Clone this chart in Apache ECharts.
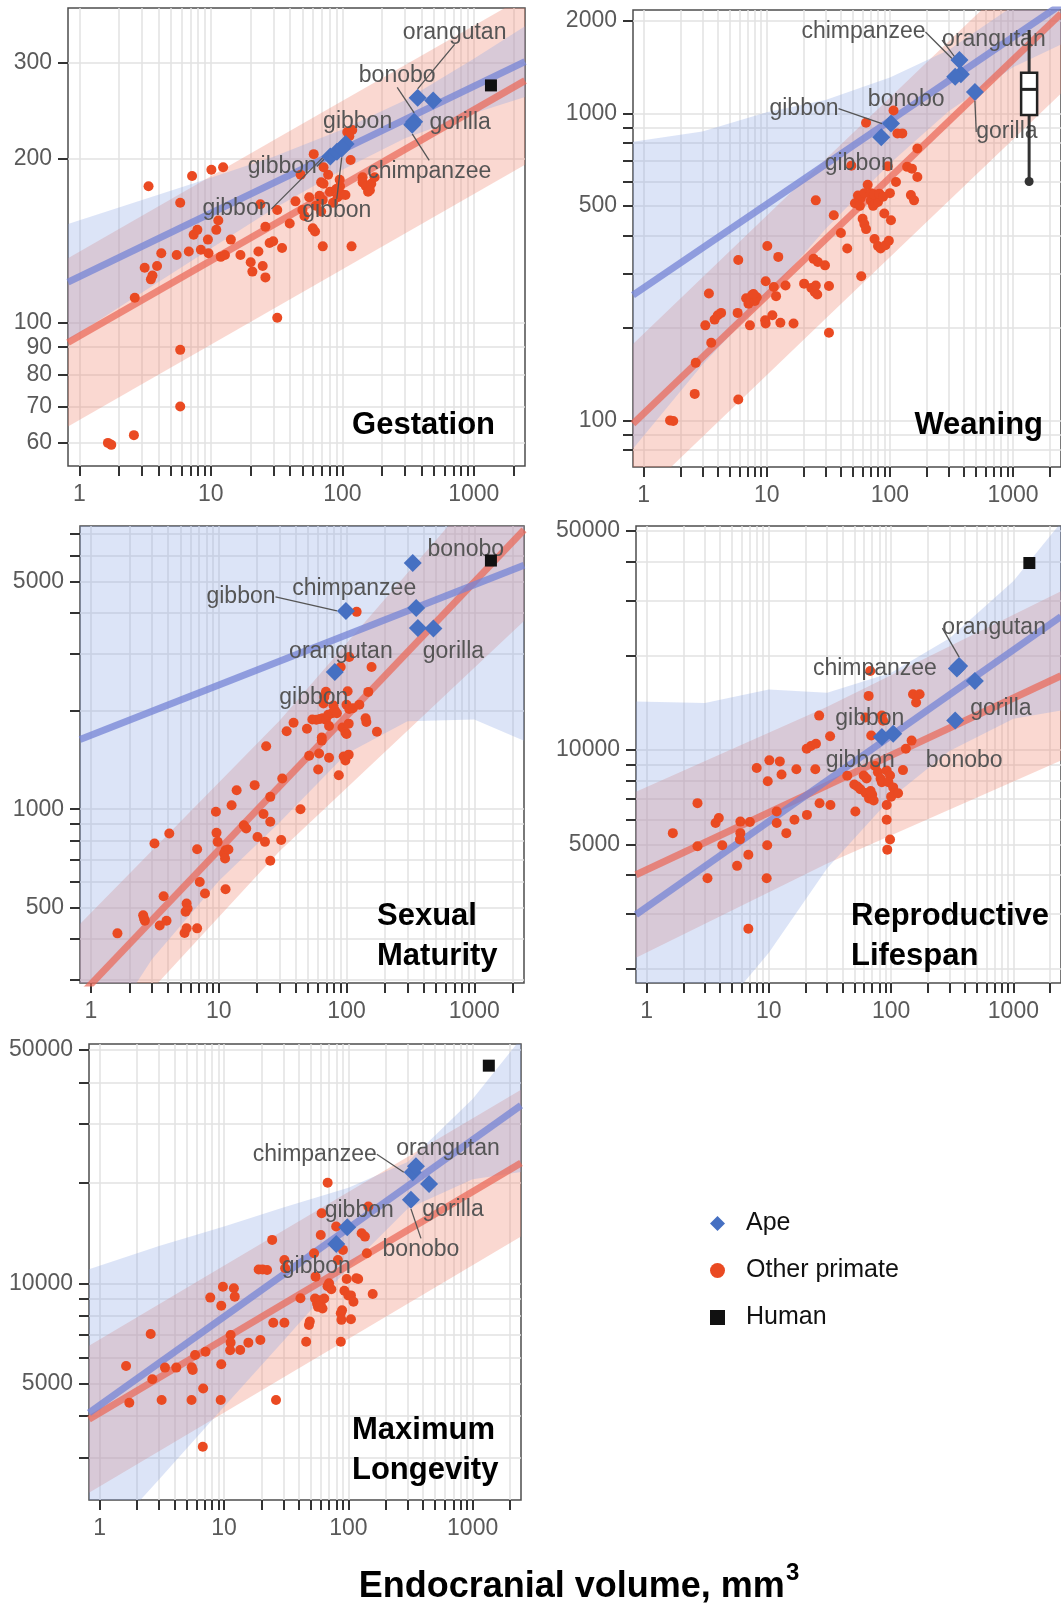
<!DOCTYPE html>
<html>
<head>
<meta charset="utf-8">
<script src="https://cdn.jsdelivr.net/npm/echarts@6/dist/echarts.min.js"></script>
<style>
  html, body { margin: 0; padding: 0; background: #fff; }
  #chart { width: 1061px; height: 1608px; }
</style>
</head>
<body>
<div id="chart"></div>
<script>
// shared x axis (endocranial volume, log scale)
const xRange = [0.82, 2450]
const xTicks = [1, 2, 3, 4, 5, 6, 7, 8, 9, 10, 20, 30, 40, 50, 60, 70, 80, 90,
  100, 200, 300, 400, 500, 600, 700, 800, 900, 1000, 2000]
const xLabels = [1, 10, 100, 1000]
const bandX = [0.82, 3, 10, 30, 100, 300, 1000, 2450]
const redBandX = [0.82, 30, 2450]
const humanVolume = 1350

// ---- Gestation
const gestYRange = [54.4, 379]
const gestYTicks = [60, 70, 80, 90, 100, 200, 300]
const gestYLabels = [60, 70, 80, 90, 100, 200, 300]
const gestOther = [[1.65,60],[1.75,59.5],[2.6,62],[5.85,70],[5.85,89],[32,102],[2.64,111],[3.14,126],[3.5,120],[3.6,122],
  [3.9,127],[4.2,134],[3.36,178],[5.5,133],[5.85,166],[6.8,135],[7.2,186],[7.4,145],[7.9,148],[8.4,136],[9.5,142],[9.6,134],
  [10.1,191],[11,148],[11.4,154],[11.9,132],[12.4,193],[12.8,133],[14.2,142],[16.8,133],[20.1,129],[20.7,124],[23,135],
  [23.8,165],[24.8,127],[26,121],[26,150],[28,140],[29.8,141],[32,161],[34.8,137],[39.8,152],[44,167],[48.2,187],[49.7,161],
  [51.5,157],[56,170],[60.6,204],[59.6,149],[62,147],[63,164],[67,171],[71,168],[69,160],[69,181],[72,180],[71,138],[78,187],
  [72,193],[80.5,174],[85,166],[92,170],[90,176],[96,178],[100,172],[95.5,183],[105.6,171.5],[109,224],[119,226],[113,220],
  [115.6,199],[117.5,138],[142.6,185],[142.6,181],[151,178],[166,180],[157,174],[162,175],[176,185]]
const gestApeNames = ['orangutan', 'gorilla', 'bonobo', 'chimpanzee', 'gibbon', 'gibbon', 'gibbon', 'gibbon']
const gestApe = [[374,259],[491,256],[352,234],[340,231],[106,213],[81,202],[91,206],[99,209]]
const gestHuman = [[humanVolume, 273]]
const gestRedFit = [[0.82, 91.8], [2450, 278.6]]
const gestBlueFit = [[0.82, 118.6], [2450, 302]]
const gestRedLo = [64.3, 105.9, 195]
const gestRedHi = [131.2, 216.3, 398]
const gestBlueLo = [92.7, 113.5, 136.8, 161.8, 191, 218.3, 242.7, 260]
const gestBlueHi = [151.7, 167.9, 184.5, 201.8, 226.5, 256.4, 305.5, 350.8]

// ---- Weaning
const weanYRange = [70.5, 2173]
const weanYTicks = [80, 90, 100, 200, 300, 400, 500, 600, 700, 800, 900, 1000, 2000]
const weanYLabels = [100, 500, 1000, 2000]
const weanOther = [[1.64,100],[1.74,99.5],[2.6,122],[5.87,117],[2.65,154],[3.54,179],[3.17,204],[3.39,259],[3.77,213],
  [4.0,220],[4.26,224],[5.87,333],[5.8,224],[6.8,250],[7.1,240],[7.6,256],[8.0,245],[8.3,252],[7.8,258],[7.3,204],[9.7,212],
  [9.8,207],[11.1,220],[12.9,208],[9.8,284],[10.1,370],[11.4,272],[11.9,254],[12.4,341],[14.2,275],[16.5,207],[20.1,279],
  [23,270],[24.5,262],[25,275],[25.7,257],[24,336],[26,328],[29.7,320],[25,521],[32,274],[32,193],[35,466],[40,408],[45,363],
  [48.6,676],[58.5,295],[60,454],[62,436],[64,420],[64,933],[66,586],[55,540],[58,530],[62,550],[52,510],[57,500],[70,520],
  [73,500],[76,510],[80,515],[70,550],[74,545],[82,548],[88,535],[75,390],[80,370],[84,363],[92,372],[98,385],[90,472],
  [102,449],[100,550],[96,673],[107,1023],[112,598],[115,861],[126,861],[138,670],[151,661],[167,769],[148,542],[157,521],
  [167,621]]
const weanApeNames = ['chimpanzee', 'orangutan', 'bonobo', 'gorilla', 'gibbon', 'gibbon']
const weanApe = [[367,1493],[377,1343],[339,1318],[490,1175],[102,927],[85,836]]
// human: min, lower quartile, median, upper quartile, max
const weanHumanBox = [600, 988, 1198, 1357, 1870]
const weanRedFit = [[0.82, 97.5], [2450, 2113]]
const weanBlueFit = [[0.82, 255.9], [2450, 2265]]
const weanRedLo = [53.6, 214.3, 1161]
const weanRedHi = [177.4, 709.6, 3846]
const weanBlueLo = [80.9, 151.7, 253.5, 420.7, 687, 1016, 1413, 1679]
const weanBlueHi = [809, 873, 1009, 1107, 1309, 1611, 2239, 3055]

// ---- Sexual Maturity
const sexYRange = [293, 7390]
const sexYTicks = [300, 400, 500, 600, 700, 800, 900, 1000, 2000, 3000, 4000, 5000, 6000, 7000]
const sexYLabels = [500, 1000, 5000]
const sexOther = [[1.61,416],[2.56,473],[2.64,455],[2.6,462],[3.14,785],[3.45,440],[3.7,541],[3.9,455],[4.1,842],[5.4,417],
  [5.6,431],[5.6,514],[5.7,496],[5.5,485],[6.77,431],[6.77,754],[7.1,598],[7.8,551],[9.5,982],[9.6,846],[9.8,794],[11,731],
  [11.3,748],[11.2,706],[11.3,568],[11.9,752],[12.6,1028],[13.8,1143],[15.7,893],[16.4,873],[19.1,1185],[20.1,822],[22.4,966],
  [23,794],[25.3,915],[25.3,1091],[25.3,695],[23.5,1560],[30.8,804],[31.4,1242],[34,1734],[38.5,1841],[43.6,1000],[49,1766],
  [51,1459],[54,1884],[58,1880],[62,1890],[65,1900],[60,1323],[61,1482],[64,1660],[64,1623],[66,2109],[67,2208],[69,2291],
  [69,1880],[73,1800],[72,1950],[73,1439],[77,1970],[79,2080],[81,2010],[84,1970],[87,1271],[90,2730],[93,1780],[98,1720],
  [100,1700],[104,1830],[95,1450],[98,1410],[104,1470],[100,2090],[105,2030],[102,2300],[105,2930],[112,2040],[126,2090],
  [120,4030],[141,1900],[143,1850],[148,2290],[157,2730],[173,1727]]
const sexApeNames = ['bonobo', 'chimpanzee', 'gibbon', 'orangutan', 'gorilla', 'gibbon']
const sexApe = [[330,5690],[351,4140],[99,4055],[362,3594],[479,3580],[81,2636]]
const sexHuman = [[humanVolume, 5790]]
const sexRedFit = [[0.82, 267.9], [2450, 7194]]
const sexBlueFit = [[0.82, 1637], [2450, 5598]]
const sexRedLo = [161.4, 744.7, 3776]
const sexRedHi = [444.6, 1871, 13710]
const sexBlueLo = [158.5, 346.7, 602.6, 912, 1479, 1862, 1884, 1622]
const sexBlueHi = [16900, 11500, 9600, 9000, 9000, 9000, 12700, 19300]

// ---- Reproductive Lifespan
const reproYRange = [1805, 51900]
const reproYTicks = [2000, 3000, 4000, 5000, 6000, 7000, 8000, 9000, 10000, 20000, 30000, 40000, 50000]
const reproYLabels = [5000, 10000, 50000]
const reproOther = [[1.64,5430],[2.61,6770],[2.61,4930],[3.15,3900],[3.67,5850],[3.9,6070],[4.16,4970],[5.5,4270],[5.85,5910],
  [5.85,5430],[5.8,5180],[6.8,4630],[7.0,5890],[6.8,2690],[7.96,8770],[9.6,3900],[9.7,4970],[9.8,7950],[10.1,9270],[12.3,9200],
  [11.6,6370],[11.6,5850],[12.7,8360],[13.9,5430],[16.2,5990],[16.8,8690],[20.4,10100],[22.1,10300],[24.3,10470],[20.5,6210],
  [24,8690],[25.8,12880],[26,6760],[31.7,11070],[31.9,6680],[43.8,8280],[51,6370],[50,7760],[53,7650],[56,7500],[59.7,8300],
  [63,8110],[62,7300],[66,7000],[68,7400],[70,7200],[72,6900],[65.5,14890],[68.8,11130],[61.5,12700],[67.5,17870],[84,12880],
  [86,12400],[74,8900],[78,8500],[82,8100],[84,7900],[92,8600],[98,8300],[95,7900],[104,7600],[107,7300],[100,7100],[92,6680],
  [92,5990],[98,5180],[93,4810],[114,7280],[125,8630],[132,10100],[147,10720],[151,15070],[171,15070],[160,14190]]
const reproApeNames = ['orangutan', 'chimpanzee', 'gorilla', 'bonobo', 'gibbon', 'gibbon']
const reproApe = [[360,18540],[345,18200],[484,16600],[334,12420],[84,11000],[104,11270]]
const reproHuman = [[humanVolume, 39540]]
const reproRedFit = [[0.82, 4000], [2450, 17260]]
const reproBlueFit = [[0.82, 2985], [2450, 26670]]
const reproRedLo = [2173, 4345, 9268]
const reproRedHi = [7362, 13740, 32140]
const reproBlueLo = [623.7, 1288, 2254, 4198, 7031, 9931, 12590, 13370]
const reproBlueHi = [14290, 14130, 15600, 15240, 17660, 22750, 34670, 53210]

// ---- Maximum Longevity
const longYRange = [2243, 52100]
const longYTicks = [3000, 4000, 5000, 6000, 7000, 8000, 9000, 10000, 20000, 30000, 40000, 50000]
const longYLabels = [5000, 10000, 50000]
const longOther = [[1.63,5650],[1.73,4385],[2.57,7050],[2.65,5160],[3.15,4470],[3.35,5590],[4.13,5590],[5.48,4470],[5.5,5600],
  [5.6,5500],[5.85,6100],[6.8,4840],[7.1,6240],[6.75,3240],[7.75,9060],[9.4,4470],[9.5,5720],[9.5,8560],[9.8,9770],[11.3,7000],
  [11.3,6640],[11.2,6300],[12,9660],[12.2,9120],[13.5,6310],[15.7,6640],[19.6,6760],[19,11000],[20.4,11000],[22.2,10960],
  [24.4,13490],[24.9,7620],[30.6,7620],[26.2,4470],[30.6,11750],[31,11090],[41.2,9020],[45.8,6680],[48.2,7500],[49,7680],
  [53,12300],[54.5,10470],[54,9000],[56,8700],[58,8900],[57,8500],[60,8600],[62,8400],[64,9000],[60,13960],[61,16220],[68.2,20000],
  [68,9800],[70,10000],[73,9600],[79.8,14800],[82.4,11750],[87,8130],[88,7770],[89,8300],[87,6680],[90.5,12590],[93,9500],
  [100,9200],[105,9200],[97,10300],[116,10350],[120,10300],[128,14130],[136,13800],[141,12300],[145,16980],[157,9290],
  [110,8800],[105,7800]]
const longApeNames = ['chimpanzee', 'orangutan', 'gorilla', 'bonobo', 'gibbon', 'gibbon']
const longApe = [[330,21500],[350,22400],[446,19820],[319,17780],[98,14720],[80,13120]]
const longHuman = [[humanVolume, 44870]]
const longRedFit = [[0.82, 3917], [2450, 22910]]
const longBlueFit = [[0.82, 4093], [2450, 34120]]
const longRedLo = [2360, 5224, 13800]
const longRedHi = [6501, 14390, 38020]
const longBlueLo = [1521, 2582, 4266, 6714, 11120, 16710, 20510, 21530]
const longBlueHi = [11020, 12940, 14790, 16870, 19320, 23070, 35650, 54080]

const FONT = '"Liberation Sans", Arial, Helvetica, sans-serif'
const RED = '#ea4a22'
const BLUE = '#4670c2'

// layout: label offsets [dx, dy, leader line]
const panels = [
  { grid: { left: 68, top: 8, width: 457, height: 458 }, y: gestYRange, yTicks: gestYTicks, yLabels: gestYLabels,
    other: gestOther, ape: gestApe, apeNames: gestApeNames, human: gestHuman,
    redFit: gestRedFit, blueFit: gestBlueFit, redLo: gestRedLo, redHi: gestRedHi, blueLo: gestBlueLo, blueHi: gestBlueHi,
    offsets: [[37,-65,1],[27,22,0],[-17,-46,1],[17,47,1],[12,-22,0],[-48,10,1],[-100,57,1],[-5,62,1]] },
  { grid: { left: 633, top: 10, width: 433, height: 457 }, y: weanYRange, yTicks: weanYTicks, yLabels: weanYLabels,
    other: weanOther, ape: weanApe, apeNames: weanApeNames, human: null,
    redFit: weanRedFit, blueFit: weanBlueFit, redLo: weanRedLo, redHi: weanRedHi, blueLo: weanBlueLo, blueHi: weanBlueHi,
    offsets: [[-96,-28,1],[33,-34,1],[-49,23,0],[32,40,1],[-87,-15,1],[-22,26,0]] },
  { grid: { left: 80, top: 526, width: 444, height: 457 }, y: sexYRange, yTicks: sexYTicks, yLabels: sexYLabels,
    other: sexOther, ape: sexApe, apeNames: sexApeNames, human: sexHuman,
    redFit: sexRedFit, blueFit: sexBlueFit, redLo: sexRedLo, redHi: sexRedHi, blueLo: sexBlueLo, blueHi: sexBlueHi,
    offsets: [[53,-13,0],[-62,-19,0],[-105,-14,1],[-77,24,0],[20,23,0],[-21,26,0]] },
  { grid: { left: 636, top: 526, width: 430, height: 457 }, y: reproYRange, yTicks: reproYTicks, yLabels: reproYLabels,
    other: reproOther, ape: reproApe, apeNames: reproApeNames, human: reproHuman,
    redFit: reproRedFit, blueFit: reproBlueFit, redLo: reproRedLo, redHi: reproRedHi, blueLo: reproBlueLo, blueHi: reproBlueHi,
    offsets: [[35,-38,1],[-82,0,0],[26,28,0],[9,40,0],[-12,-18,0],[-33,27,0]] },
  { grid: { left: 89, top: 1044, width: 432, height: 456 }, y: longYRange, yTicks: longYTicks, yLabels: longYLabels,
    other: longOther, ape: longApe, apeNames: longApeNames, human: longHuman,
    redFit: longRedFit, blueFit: longBlueFit, redLo: longRedLo, redHi: longRedHi, blueLo: longBlueLo, blueHi: longBlueHi,
    offsets: [[-98,-18,1],[32,-18,0],[24,26,0],[10,50,1],[12,-17,0],[-20,23,0]] }
]

function bandSeries(i, xs, lo, hi, color) {
  const data = xs.map((x, k) => [x, lo[k], hi[k]])
  return {
    type: 'custom', name: 'band', xAxisIndex: i, yAxisIndex: i, clip: true, silent: true, z: 1,
    encode: { x: 0, y: [1, 2] },
    data,
    renderItem(params, api) {
      if (params.dataIndex !== 0) return null
      const upper = data.map((d) => api.coord([d[0], d[2]]))
      const lower = data.map((d) => api.coord([d[0], d[1]])).reverse()
      return { type: 'polygon', shape: { points: upper.concat(lower) }, style: { fill: color } }
    }
  }
}

function fitSeries(i, pts, color) {
  return {
    type: 'line', name: 'fit', xAxisIndex: i, yAxisIndex: i, data: pts, showSymbol: false, silent: true,
    lineStyle: { color, width: 7 }, z: 2
  }
}

const grid = [], xAxis = [], yAxis = [], series = []

panels.forEach((p, i) => {
  grid.push({ ...p.grid, show: true, borderColor: '#4d4d4d', borderWidth: 1.5, backgroundColor: 'transparent' })
  xAxis.push({
    type: 'log', logBase: 10, gridIndex: i, min: xRange[0], max: xRange[1],
    axisLine: { show: false },
    axisTick: { show: true, customValues: xTicks, length: 10, lineStyle: { color: '#333', width: 2 } },
    axisLabel: { customValues: xLabels, formatter: (v) => String(v), fontSize: 23, color: '#5a5a5a', margin: 17, fontFamily: FONT },
    splitLine: { show: true, lineStyle: { color: '#e2e2e2', width: 1.5 } }
  })
  yAxis.push({
    type: 'log', logBase: 10, gridIndex: i, min: p.y[0], max: p.y[1],
    axisLine: { show: false },
    axisTick: { show: true, customValues: p.yTicks, length: 10, lineStyle: { color: '#333', width: 2 } },
    axisLabel: { customValues: p.yLabels, formatter: (v) => String(v), fontSize: 23, color: '#5a5a5a', margin: 16, fontFamily: FONT },
    splitLine: { show: true, lineStyle: { color: '#e2e2e2', width: 1.5 } }
  })

  series.push(bandSeries(i, redBandX, p.redLo, p.redHi, 'rgba(240,135,112,0.32)'))
  series.push(bandSeries(i, bandX, p.blueLo, p.blueHi, 'rgba(140,165,228,0.3)'))
  series.push(fitSeries(i, p.redFit, 'rgba(234,104,88,0.72)'))
  series.push(fitSeries(i, p.blueFit, 'rgba(118,132,214,0.75)'))

  series.push({
    type: 'scatter', name: 'Other primate', xAxisIndex: i, yAxisIndex: i, data: p.other,
    symbolSize: 10, itemStyle: { color: RED, opacity: 1 }, z: 3
  })

  const offs = p.offsets
  series.push({
    type: 'scatter', name: 'Ape', xAxisIndex: i, yAxisIndex: i, symbol: 'diamond', symbolSize: 18,
    itemStyle: { color: BLUE, opacity: 1 }, z: 4,
    data: p.ape.map((a, k) => ({ value: a, name: p.apeNames[k], labelLine: { show: !!offs[k][2] } })),
    label: { show: true, position: 'inside', formatter: '{b}', color: '#555', fontSize: 23, fontFamily: FONT },
    labelLine: { show: true, lineStyle: { color: '#555', width: 1.3 } },
    labelLayout: (params) => ({ dx: offs[params.dataIndex][0], dy: offs[params.dataIndex][1] })
  })

  if (p.human) {
    series.push({
      type: 'scatter', name: 'Human', xAxisIndex: i, yAxisIndex: i, data: p.human, symbol: 'rect',
      symbolSize: 12, itemStyle: { color: '#111', opacity: 1 }, z: 5
    })
  }
})

// human weaning shown as a box plot
series.push({
  type: 'custom', name: 'Human', xAxisIndex: 1, yAxisIndex: 1, z: 5, clip: false,
  itemStyle: { color: '#111' },
  encode: { x: 0, y: [1, 2, 3, 4, 5] },
  data: [[humanVolume].concat(weanHumanBox)],
  renderItem(params, api) {
    const x = api.value(0)
    const lo = api.coord([x, api.value(1)])
    const q1 = api.coord([x, api.value(2)])
    const med = api.coord([x, api.value(3)])
    const q3 = api.coord([x, api.value(4)])
    const hi = api.coord([x, api.value(5)])
    const w = 16
    return {
      type: 'group',
      children: [
        { type: 'line', shape: { x1: hi[0], y1: hi[1], x2: lo[0], y2: lo[1] }, style: { stroke: '#333', lineWidth: 3 } },
        { type: 'rect', shape: { x: q3[0] - w / 2, y: q3[1], width: w, height: q1[1] - q3[1] },
          style: { fill: '#fff', stroke: '#222', lineWidth: 2.5 } },
        { type: 'line', shape: { x1: med[0] - w / 2, y1: med[1], x2: med[0] + w / 2, y2: med[1] },
          style: { stroke: '#222', lineWidth: 3 } },
        { type: 'circle', shape: { cx: lo[0], cy: lo[1], r: 4.5 }, style: { fill: '#333' } }
      ]
    }
  }
})

const titleStyle = { font: 'bold 31px ' + FONT, fill: '#000', lineHeight: 40 }
const titles = [
  { text: 'Gestation', x: 495, y: 405, align: 'right' },
  { text: 'Weaning', x: 1043, y: 405, align: 'right' },
  { text: 'Sexual\nMaturity', x: 377, y: 896, align: 'left' },
  { text: 'Reproductive\nLifespan', x: 851, y: 896, align: 'left' },
  { text: 'Maximum\nLongevity', x: 352, y: 1410, align: 'left' }
]

const chart = echarts.init(document.getElementById('chart'))
chart.setOption({
  animation: false,
  backgroundColor: '#fff',
  textStyle: { fontFamily: FONT },
  grid, xAxis, yAxis, series,
  legend: {
    orient: 'vertical', left: 705, top: 1206, itemGap: 22, itemWidth: 15, itemHeight: 15,
    textStyle: { fontSize: 25, color: '#111', fontFamily: FONT, padding: [0, 0, 0, 16] },
    data: [
      { name: 'Ape', icon: 'diamond', itemStyle: { color: BLUE } },
      { name: 'Other primate', icon: 'circle', itemStyle: { color: RED } },
      { name: 'Human', icon: 'rect', itemStyle: { color: '#111' } }
    ]
  },
  graphic: titles.map((t) => ({
    type: 'text', x: t.x, y: t.y, z: 50,
    style: { ...titleStyle, text: t.text, textAlign: t.align, textVerticalAlign: 'top' }
  })).concat([{
    type: 'text', x: 579, y: 1583, z: 50,
    style: {
      text: '{a|Endocranial volume, mm}{s|3}', textAlign: 'center', textVerticalAlign: 'middle',
      rich: {
        a: { font: 'bold 36px ' + FONT, fill: '#000', lineHeight: 44, verticalAlign: 'bottom' },
        s: { font: 'bold 24px ' + FONT, fill: '#000', lineHeight: 44, verticalAlign: 'top', padding: [0, 0, 0, 1] }
      }
    }
  }])
})
</script>
</body>
</html>
